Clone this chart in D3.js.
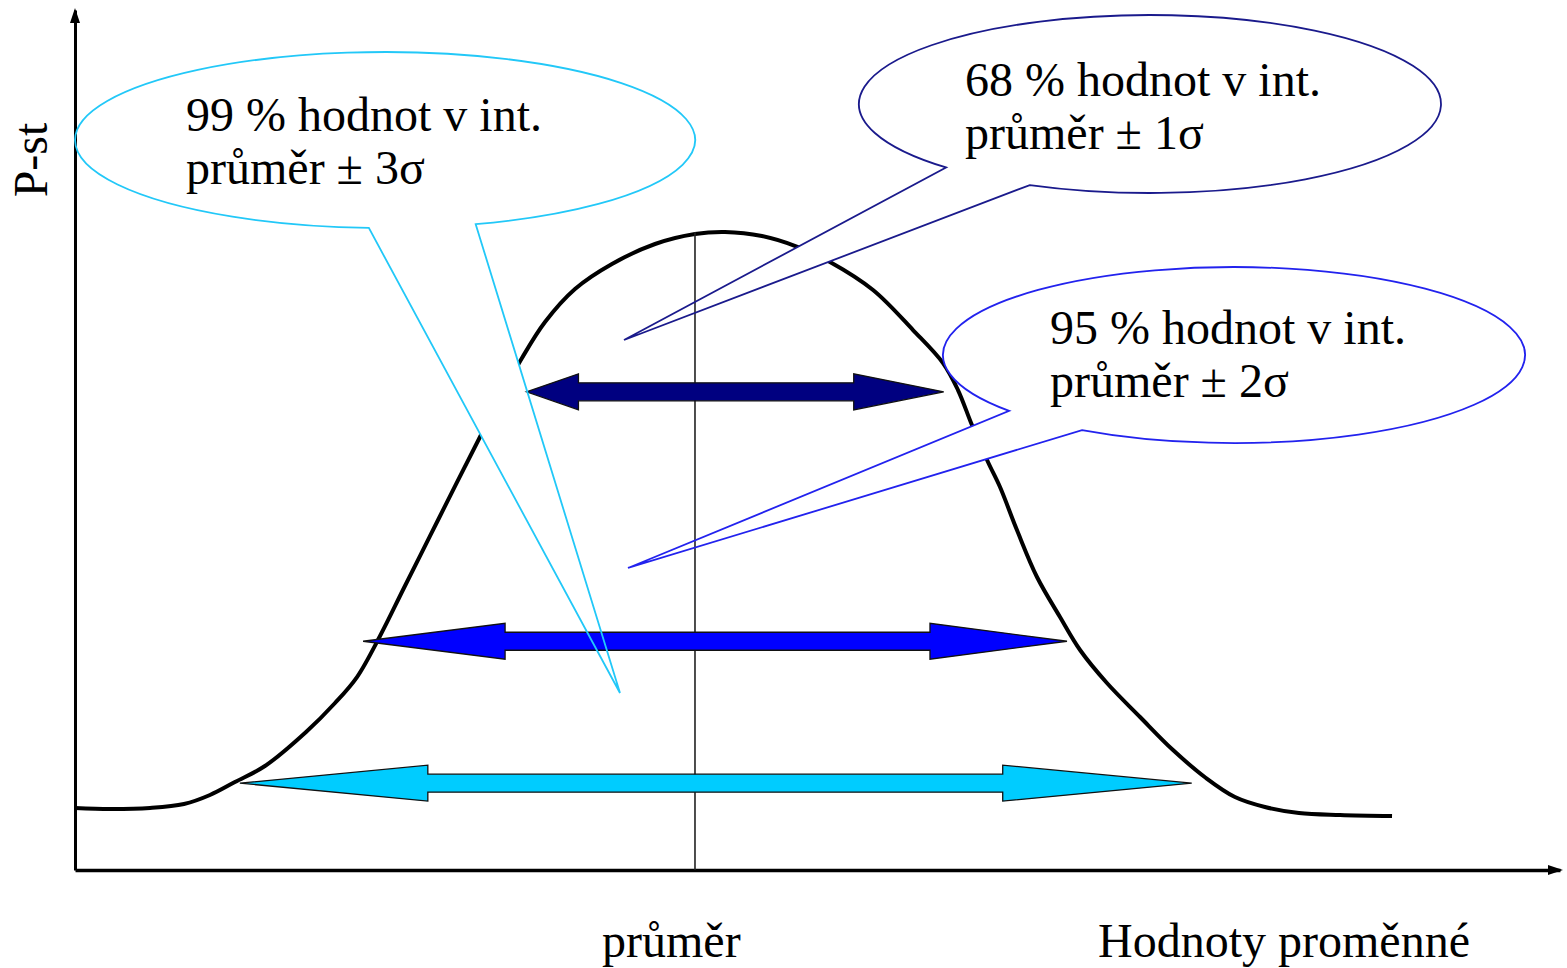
<!DOCTYPE html>
<html>
<head>
<meta charset="utf-8">
<script src="https://cdn.jsdelivr.net/npm/d3@7"></script>
<style>
  body { margin: 0; background: #fff; overflow: hidden; }
  text { font-family: "Liberation Serif", "Times New Roman", serif; fill: #000; }
</style>
</head>
<body>
<div class="infographic"></div>
<script>
// bell curve, x and y both on a 0..100 scale of the axes
var curveX = [0, 2.36, 5.05, 7.34, 9.09, 10.77, 12.79, 15.56, 17.51, 18.99, 20.54, 22.15, 23.91,
              25.66, 27.27, 28.82, 30.10, 31.65, 33.67, 36.16, 39.06, 41.75, 43.77, 46.26, 48.69,
              50.84, 53.74, 56.43, 58.45, 59.46, 60.40, 61.48, 62.29, 63.43, 64.78, 66.33, 67.68,
              69.49, 71.72, 73.94, 76.16, 78.11, 80.13, 82.42, 85.19, 88.69];
var curveY = [7.21, 7.09, 7.21, 7.67, 8.72, 10.23, 12.09, 16.05, 19.42, 22.44, 27.21, 32.79, 38.84,
              44.88, 50.35, 55.47, 59.53, 63.72, 67.56, 70.47, 72.79, 73.95, 74.19, 73.72, 72.44,
              70.70, 67.44, 62.79, 58.95, 55.81, 51.74, 47.44, 44.53, 39.53, 34.07, 29.42, 25.58,
              21.74, 17.79, 13.95, 10.70, 8.49, 7.33, 6.63, 6.40, 6.28];

var meanX = 41.75;
var peakY = 74.2;

// intervals: mean +- k sigma
var sigmaK = [1, 2, 3];
var pct    = [68, 95, 99];
var lowX   = [30.4, 19.4, 11.1];
var highX  = [58.5, 66.8, 75.2];
var levelY = [55.6, 26.6, 10.1];

var yLabel = "P-st";
var xLabel = "Hodnoty proměnné";
var meanLabel = "průměr";

var width = 1567, height = 968;

var x = d3.scaleLinear().domain([0, 100]).range([75, 1560]);
var y = d3.scaleLinear().domain([0, 100]).range([870, 10]);

var colors = ["#000080", "#0000ff", "#00ccff"];
var outline = ["#1a1a8c", "#2222ee", "#22c8f8"];

// arrow head lengths in px, left / right
var heads = [[52, 90], [142, 137], [188, 189]];

// callout bubbles: center + tip in axis units, radii in px, base angles in degrees
var callouts = [
  {cx: 72.39, cy: 89.07, rx: 291, ry: 89, tx: 36.97, ty: 61.63, a0: 134.5, a1: 114.4, lx: 965, ly: 96},
  {cx: 78.05, cy: 59.88, rx: 291, ry: 88, tx: 37.24, ty: 35.12, a0: 140.6, a1: 121.5, lx: 1050, ly: 344},
  {cx: 20.88, cy: 84.88, rx: 310, ry: 88, tx: 36.70, ty: 20.58, a0: 93, a1: 73, lx: 186, ly: 131}
];

var svg = d3.select(".infographic")
            .append("svg")
            .attr("width", width)
            .attr("height", height);

var line = d3.line()
    .x(function(d) { return x(d[0]); })
    .y(function(d) { return y(d[1]); })
    .curve(d3.curveCatmullRom.alpha(0.5));

svg.append("path")
    .attr("class", "bell")
    .attr("d", line(d3.zip(curveX, curveY)))
    .style("fill", "none")
    .style("stroke", "#000")
    .style("stroke-width", 4);

function bubblePath(c) {
  var cx = x(c.cx), cy = y(c.cy);
  var r0 = c.a0 * Math.PI / 180, r1 = c.a1 * Math.PI / 180;
  var pL = [cx + c.rx * Math.cos(r0), cy + c.ry * Math.sin(r0)];
  var pR = [cx + c.rx * Math.cos(r1), cy + c.ry * Math.sin(r1)];
  return "M" + pR + "A" + c.rx + "," + c.ry + " 0 1 0 " + pL +
         "L" + [x(c.tx), y(c.ty)] + "Z";
}

// white fill of the bubbles hides the curve under the tails
svg.append("g")
    .attr("class", "bubble-fill")
  .selectAll("path")
    .data(callouts)
  .enter().append("path")
    .attr("d", bubblePath)
    .style("fill", "#fff")
    .style("stroke", "none");

// axes without ticks
svg.append("g")
    .attr("transform", "translate(0," + y(0) + ")")
    .call(d3.axisBottom(x).tickValues([]).tickSizeOuter(0))
    .select(".domain")
    .style("stroke-width", 3.5);

svg.append("g")
    .attr("transform", "translate(" + x(0) + ",0)")
    .call(d3.axisLeft(y).tickValues([]).tickSizeOuter(0))
    .select(".domain")
    .style("stroke-width", 3);

svg.append("path")
    .attr("d", "M" + x(0) + "," + (y(100) - 2) + "l-5,15l10,0z")
    .style("fill", "#000");
svg.append("path")
    .attr("d", "M" + (x(100) + 3) + "," + y(0) + "l-15,-5l0,10z")
    .style("fill", "#000");

// mean line
svg.append("line")
    .attr("x1", x(meanX)).attr("x2", x(meanX))
    .attr("y1", y(peakY)).attr("y2", y(0))
    .style("stroke", "#222")
    .style("stroke-width", 1.6);

function arrowPoints(k, i) {
  var x0 = x(lowX[i]), x1 = x(highX[i]), c = y(levelY[i]);
  var hl = heads[i][0], hr = heads[i][1], hh = 18, sh = 9;
  return [[x0, c], [x0 + hl, c - hh], [x0 + hl, c - sh], [x1 - hr, c - sh], [x1 - hr, c - hh],
          [x1, c], [x1 - hr, c + hh], [x1 - hr, c + sh], [x0 + hl, c + sh], [x0 + hl, c + hh]];
}

svg.append("g")
    .attr("class", "intervals")
  .selectAll("polygon")
    .data(sigmaK)
  .enter().append("polygon")
    .attr("points", function(k, i) { return arrowPoints(k, i).join(" "); })
    .style("fill", function(k, i) { return colors[i]; })
    .style("stroke", "#111")
    .style("stroke-width", 1.3)
    .style("stroke-linejoin", "miter");

// bubble outlines on top of the arrows
svg.append("g")
    .attr("class", "bubble-line")
  .selectAll("path")
    .data(callouts)
  .enter().append("path")
    .attr("d", bubblePath)
    .style("fill", "none")
    .style("stroke", function(c, i) { return outline[i]; })
    .style("stroke-width", 1.8)
    .style("stroke-linejoin", "miter");

var labels = svg.append("g")
    .attr("class", "labels")
  .selectAll("text")
    .data(callouts)
  .enter().append("text")
    .attr("x", function(c) { return c.lx; })
    .attr("y", function(c) { return c.ly; })
    .style("font-size", "48px");

labels.append("tspan")
    .text(function(c, i) { return pct[i] + " % hodnot v int."; });
labels.append("tspan")
    .attr("x", function(c) { return c.lx; })
    .attr("dy", 53)
    .text(function(c, i) { return "průměr ± " + sigmaK[i] + "σ"; });

svg.append("text")
    .attr("transform", "translate(47,160) rotate(-90)")
    .attr("text-anchor", "middle")
    .style("font-size", "48px")
    .text(yLabel);

svg.append("text")
    .attr("x", 602)
    .attr("y", 957)
    .style("font-size", "48px")
    .text(meanLabel);

svg.append("text")
    .attr("x", 1098)
    .attr("y", 957)
    .style("font-size", "48px")
    .text(xLabel);
</script>
</body>
</html>
